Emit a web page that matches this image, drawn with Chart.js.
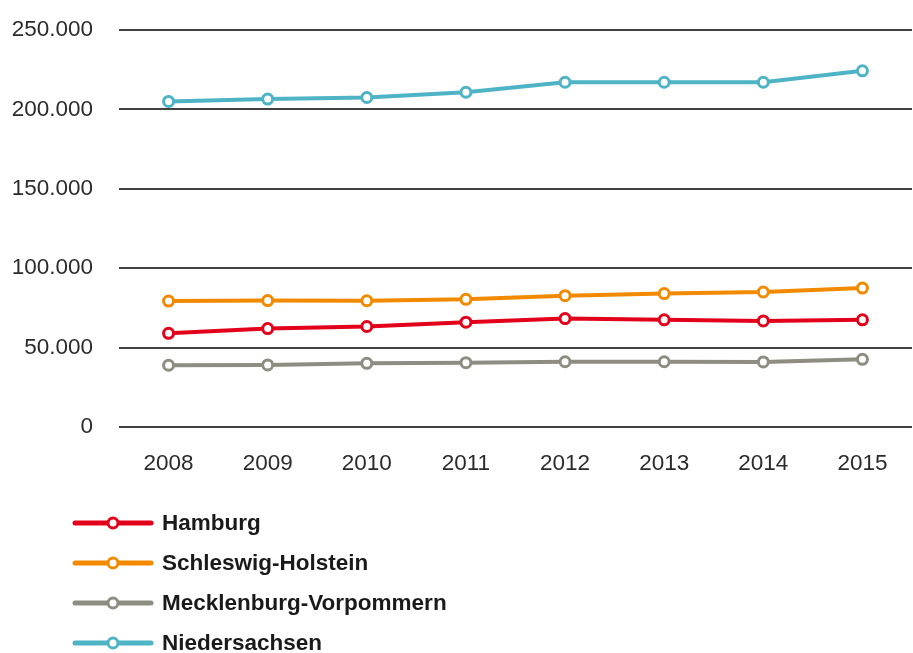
<!DOCTYPE html>
<html>
<head>
<meta charset="utf-8">
<script src="https://cdn.jsdelivr.net/npm/chart.js@4/dist/chart.umd.min.js"></script>
<style>
  html, body { margin: 0; padding: 0; background: #fff; overflow: hidden; }
  #wrap { position: relative; width: 920px; height: 653px; }
</style>
</head>
<body>
<div id="wrap"><canvas id="line-chart"></canvas></div>
<script>
var years = ["2008", "2009", "2010", "2011", "2012", "2013", "2014", "2015"];
var hamburg = [59000, 62000, 63300, 66000, 68300, 67500, 66800, 67500];
var schleswigHolstein = [79300, 79600, 79500, 80400, 82700, 84000, 85000, 87500];
var mecklenburgVorpommern = [38900, 39100, 40100, 40500, 41100, 41100, 41000, 42600];
var niedersachsen = [205000, 206500, 207500, 210800, 217100, 217100, 217100, 224300];
var yTicks = [0, 50000, 100000, 150000, 200000, 250000];

var FONT = '"Liberation Sans", Arial, sans-serif';

function series(label, color, data) {
    return {
        label: label,
        data: data,
        borderColor: color,
        backgroundColor: "#ffffff",
        borderWidth: 4,
        pointRadius: 5,
        pointBorderWidth: 3,
        pointBackgroundColor: "#ffffff",
        pointBorderColor: color,
        tension: 0
    };
}

// legend as a vertical list under the plot
var listLegend = {
    id: "listLegend",
    afterDraw: function (chart) {
        var ctx = chart.ctx;
        ctx.save();
        chart.data.datasets.forEach(function (ds, i) {
            var y = 523 + 40 * i;
            ctx.strokeStyle = ds.borderColor;
            ctx.lineWidth = 5;
            ctx.lineCap = "round";
            ctx.beginPath();
            ctx.moveTo(75, y);
            ctx.lineTo(151, y);
            ctx.stroke();
            ctx.beginPath();
            ctx.arc(113, y, 5, 0, Math.PI * 2);
            ctx.fillStyle = "#ffffff";
            ctx.fill();
            ctx.lineWidth = 3;
            ctx.stroke();
            ctx.fillStyle = "#1a1a1a";
            ctx.font = "bold 22.5px " + FONT;
            ctx.textAlign = "left";
            ctx.textBaseline = "middle";
            ctx.fillText(ds.label, 162, y + 1);
        });
        ctx.restore();
    }
};

new Chart(document.getElementById("line-chart"), {
    type: "line",
    data: {
        labels: years,
        datasets: [
            series("Hamburg", "#e3001b", hamburg),
            series("Schleswig-Holstein", "#f28a00", schleswigHolstein),
            series("Mecklenburg-Vorpommern", "#8e8d82", mecklenburgVorpommern),
            series("Niedersachsen", "#4fb3c6", niedersachsen)
        ]
    },
    options: {
        responsive: true,
        maintainAspectRatio: false,
        animation: false,
        layout: { padding: { top: 30, left: 0, right: 0, bottom: 176 } },
        plugins: {
            legend: { display: false },
            tooltip: { enabled: false }
        },
        scales: {
            x: {
                offset: true,
                grid: { display: false },
                border: { display: false },
                ticks: {
                    color: "#2b2b2b",
                    font: { family: FONT, size: 22.5 },
                    padding: 15,
                    maxRotation: 0
                },
                afterFit: function (s) { s.height = 50; }
            },
            y: {
                min: 0,
                max: 250000,
                afterBuildTicks: function (s) {
                    s.ticks = yTicks.map(function (v) { return { value: v }; });
                },
                grid: { color: "#404040", lineWidth: 2, drawTicks: false },
                border: { display: false },
                ticks: {
                    color: "#2b2b2b",
                    font: { family: FONT, size: 22.5 },
                    padding: 26,
                    callback: function (v) {
                        return v === 0 ? "0" : (v / 1000) + ".000";
                    }
                },
                afterFit: function (s) {
                    s.width = 119;
                    s.paddingTop = 0;
                    s.paddingBottom = 0;
                }
            }
        }
    },
    plugins: [listLegend]
});
</script>
</body>
</html>
